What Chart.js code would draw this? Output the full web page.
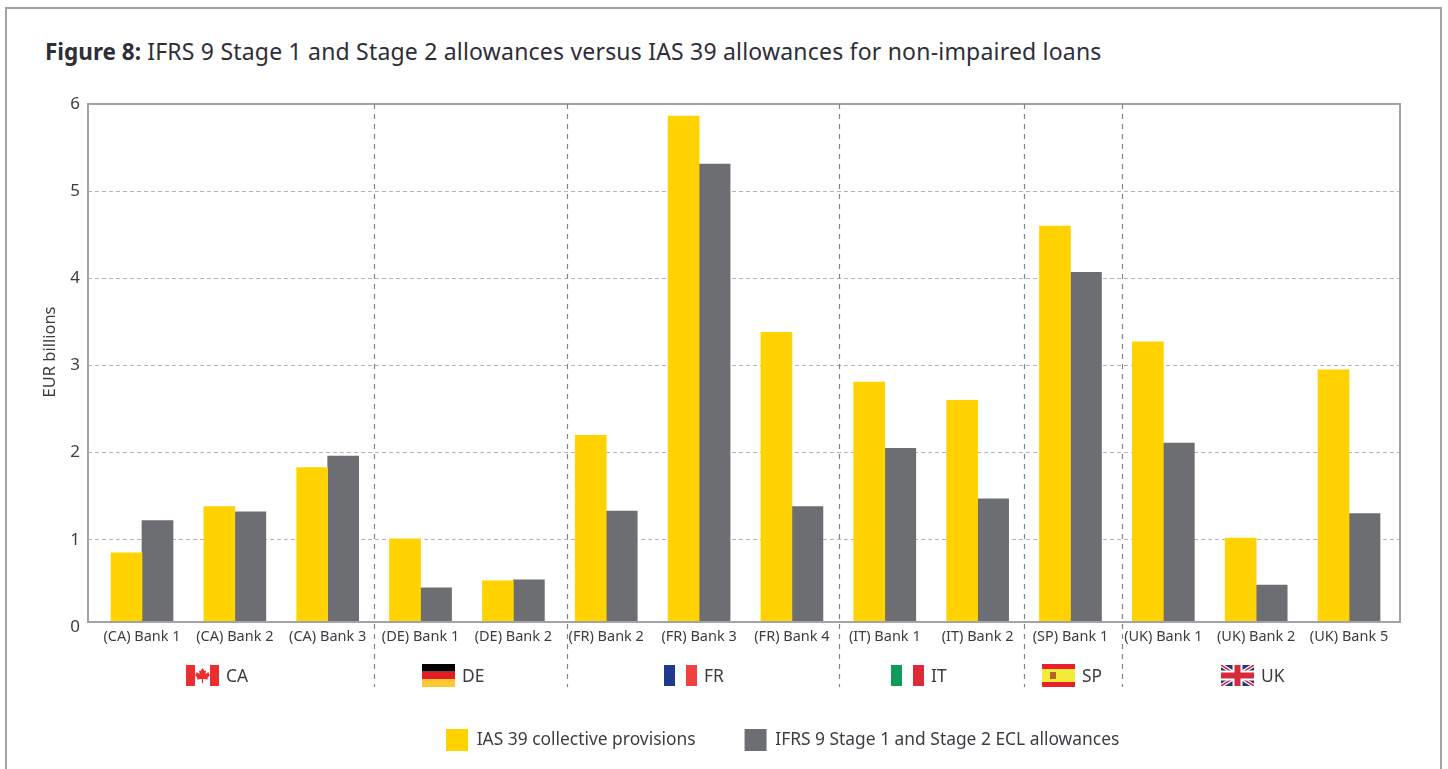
<!DOCTYPE html>
<html>
<head>
<meta charset="utf-8">
<title>Figure 8</title>
<script src="https://cdn.jsdelivr.net/npm/chart.js@4"></script>
<style>
  html, body { margin: 0; padding: 0; background: #fff; overflow: hidden; }
  #wrap { position: relative; width: 1448px; height: 769px; }
  #frame { position: absolute; left: 5px; top: 7px; width: 1433px; height: 770px; border: 2px solid #a3a3a6; }
  #title { position: absolute; left: 45px; top: 35px; font: 23px "Noto Sans", sans-serif; letter-spacing: 0.2px; color: #2e2e38; white-space: nowrap; }
  #title b { font-size: 22.5px; letter-spacing: 0; }
  canvas { position: absolute; left: 0; top: 0; }
</style>
</head>
<body>
<div id="wrap">
  <div id="frame"></div>
  <div id="title"><b>Figure 8:</b> IFRS 9 Stage 1 and Stage 2 allowances versus IAS 39 allowances for non-impaired loans</div>
  <canvas id="chart" width="1448" height="769"></canvas>
</div>
<script>
const categories = ["(CA) Bank 1", "(CA) Bank 2", "(CA) Bank 3", "(DE) Bank 1", "(DE) Bank 2", "(FR) Bank 2", "(FR) Bank 3", "(FR) Bank 4", "(IT) Bank 1", "(IT) Bank 2", "(SP) Bank 1", "(UK) Bank 1", "(UK) Bank 2", "(UK) Bank 5"];
const ias39 = [0.85, 1.38, 1.83, 1.01, 0.53, 2.20, 5.86, 3.38, 2.81, 2.60, 4.60, 3.27, 1.02, 2.95];
const ifrs9 = [1.22, 1.32, 1.96, 0.45, 0.54, 1.33, 5.31, 1.38, 2.05, 1.47, 4.07, 2.11, 0.48, 1.30];
const yTicks = [0, 1, 2, 3, 4, 5, 6];
const countries = ["CA", "DE", "FR", "IT", "SP", "UK"];
const seriesNames = ["IAS 39 collective provisions", "IFRS 9 Stage 1 and Stage 2 ECL allowances"];
const yAxisTitle = "EUR billions";

const textColor = "#3c3c44";
const fontName = '"Noto Sans", sans-serif';
// where the dashed country dividers sit, in bar index units
const dividers = [2.5, 4.577, 7.507, 9.499, 10.555];
// left edge of each flag, same order as countries
const flagLeft = [186, 422, 664, 891, 1042, 1221];

function bands(ctx, x, y, w, h, colors, vertical) {
    colors.forEach(function(c, i) {
        ctx.fillStyle = c;
        if (vertical) ctx.fillRect(x + w * i / colors.length, y, w / colors.length, h);
        else ctx.fillRect(x, y + h * i / colors.length, w, h / colors.length);
    });
}

const flags = {
    CA: function(ctx, x, y, w, h) {
        ctx.fillStyle = "#fff";
        ctx.fillRect(x, y, w, h);
        ctx.fillStyle = "#ee2e2e";
        ctx.fillRect(x, y, 9, h);
        ctx.fillRect(x + w - 9, y, 9, h);
        // maple leaf
        const cx = x + w / 2, t = y + 3;
        const leaf = [[0,0],[2,3],[3.5,2.5],[3,6],[6,4],[6.5,6],[7.5,7],[5,10],[5.5,11.5],[0.6,11],[0.6,15],[-0.6,15],[-0.6,11],[-5.5,11.5],[-5,10],[-7.5,7],[-6.5,6],[-6,4],[-3,6],[-3.5,2.5],[-2,3]];
        ctx.beginPath();
        leaf.forEach(function(p, i) {
            if (i === 0) ctx.moveTo(cx + p[0], t + p[1]);
            else ctx.lineTo(cx + p[0], t + p[1]);
        });
        ctx.closePath();
        ctx.fill();
    },
    DE: function(ctx, x, y, w, h) { bands(ctx, x, y - 1, w, h + 2, ["#000000", "#e02020", "#fdc82f"], false); },
    FR: function(ctx, x, y, w, h) { bands(ctx, x, y, w, h, ["#1f3a8a", "#ffffff", "#f04040"], true); },
    IT: function(ctx, x, y, w, h) { bands(ctx, x, y, w, h, ["#0f9a58", "#ffffff", "#dc2a3a"], true); },
    SP: function(ctx, x, y, w, h) {
        ctx.fillStyle = "#e8202a";
        ctx.fillRect(x, y - 1, w, h + 2);
        ctx.fillStyle = "#f4ec38";
        ctx.fillRect(x, y + 4, w, h - 8);
        ctx.fillStyle = "#b5652a";
        ctx.fillRect(x + 8, y + 7, 6, 7);
    },
    UK: function(ctx, x, y, w, h) {
        ctx.save();
        ctx.beginPath();
        ctx.rect(x, y, w, h);
        ctx.clip();
        ctx.fillStyle = "#1f3a7a";
        ctx.fillRect(x, y, w, h);
        ctx.strokeStyle = "#fff";
        ctx.lineWidth = 4;
        ctx.beginPath();
        ctx.moveTo(x, y); ctx.lineTo(x + w, y + h);
        ctx.moveTo(x + w, y); ctx.lineTo(x, y + h);
        ctx.stroke();
        ctx.strokeStyle = "#d8283c";
        ctx.lineWidth = 1.5;
        ctx.stroke();
        ctx.fillStyle = "#fff";
        ctx.fillRect(x + w / 2 - 5, y, 10, h);
        ctx.fillRect(x, y + h / 2 - 5, w, 10);
        ctx.fillStyle = "#d8283c";
        ctx.fillRect(x + w / 2 - 3, y, 6, h);
        ctx.fillRect(x, y + h / 2 - 3, w, 6);
        ctx.restore();
    }
};

// plot frame, country dividers, flags
const decorations = {
    id: "decorations",
    afterLayout: function(chart) {
        // legend sits off centre in the original
        chart.legend.left = 397;
        chart.legend.top = 680;
    },
    afterDatasetsDraw: function(chart) {
        const ctx = chart.ctx;
        const area = chart.chartArea;
        const x = chart.scales.x;
        ctx.save();
        ctx.strokeStyle = "#a3a3a6";
        ctx.lineWidth = 2;
        ctx.strokeRect(area.left, area.top, area.right - area.left, area.bottom - area.top);

        ctx.strokeStyle = "#828287";
        ctx.lineWidth = 1.2;
        ctx.setLineDash([5, 5]);
        dividers.forEach(function(d) {
            const px = Math.round(x.getPixelForValue(d)) + 0.5;
            ctx.beginPath();
            ctx.moveTo(px, area.top);
            ctx.lineTo(px, 687);
            ctx.stroke();
        });
        ctx.setLineDash([]);

        ctx.font = "17.4px " + fontName;
        ctx.textAlign = "left";
        ctx.textBaseline = "middle";
        countries.forEach(function(c, i) {
            flags[c](ctx, flagLeft[i], 665, 33, 21);
            ctx.fillStyle = textColor;
            ctx.fillText(c, flagLeft[i] + 40, 677);
        });

        // axis title sits above the middle of the axis, so it is placed by hand
        ctx.translate(50, 352);
        ctx.rotate(-Math.PI / 2);
        ctx.textAlign = "center";
        ctx.font = "16.5px " + fontName;
        ctx.fillText(yAxisTitle, 0, 0);
        ctx.restore();
    }
};

var ctx = document.getElementById("chart").getContext("2d");

var chart = new Chart(ctx, {
    type: "bar",
    data: {
        datasets: [{
            label: seriesNames[0],
            data: ias39.map(function(v, i) { return { x: i, y: v }; }),
            backgroundColor: "#ffd200",
            barThickness: 31
        }, {
            label: seriesNames[1],
            data: ifrs9.map(function(v, i) { return { x: i, y: v }; }),
            backgroundColor: "#6d6e71",
            barThickness: 31
        }]
    },
    plugins: [decorations],
    options: {
        responsive: false,
        animation: false,
        layout: {
            autoPadding: false,
            padding: { left: 40, right: 48, top: 104, bottom: 0 }
        },
        plugins: {
            tooltip: { enabled: false },
            legend: {
                position: "bottom",
                align: "start",
                onClick: null,
                labels: {
                    boxWidth: 22,
                    boxHeight: 22,
                    padding: 49,
                    color: textColor,
                    font: { family: fontName, size: 17.4 }
                }
            }
        },
        scales: {
            x: {
                type: "linear",
                offset: false,
                // group spacing is a little tighter than the plot width
                min: -0.5816,
                max: 13.549,
                grid: { display: false },
                border: { display: false },
                afterBuildTicks: function(scale) {
                    scale.ticks = categories.map(function(c, i) { return { value: i }; });
                },
                afterFit: function(scale) { scale.height = 66; },
                ticks: {
                    autoSkip: false,
                    maxRotation: 0,
                    padding: -2,
                    color: textColor,
                    font: { family: fontName, size: 14.5 },
                    callback: function(v) { return categories[v]; }
                }
            },
            y: {
                // the zero line is cut a little above the regular tick step
                min: 0.057,
                max: 6,
                border: { display: false, dash: [4, 3] },
                grid: {
                    drawTicks: false,
                    color: function(c) { return c.tick && c.tick.value < 1 ? "rgba(0,0,0,0)" : "#b4b4b8"; }
                },
                afterBuildTicks: function(scale) {
                    scale.ticks = yTicks.map(function(v) { return { value: v }; });
                },
                afterFit: function(scale) { scale.width = 48; },
                ticks: {
                    autoSkip: false,
                    padding: 8,
                    color: textColor,
                    font: { family: fontName, size: 17 }
                }
            }
        }
    }
});
</script>
</body>
</html>
